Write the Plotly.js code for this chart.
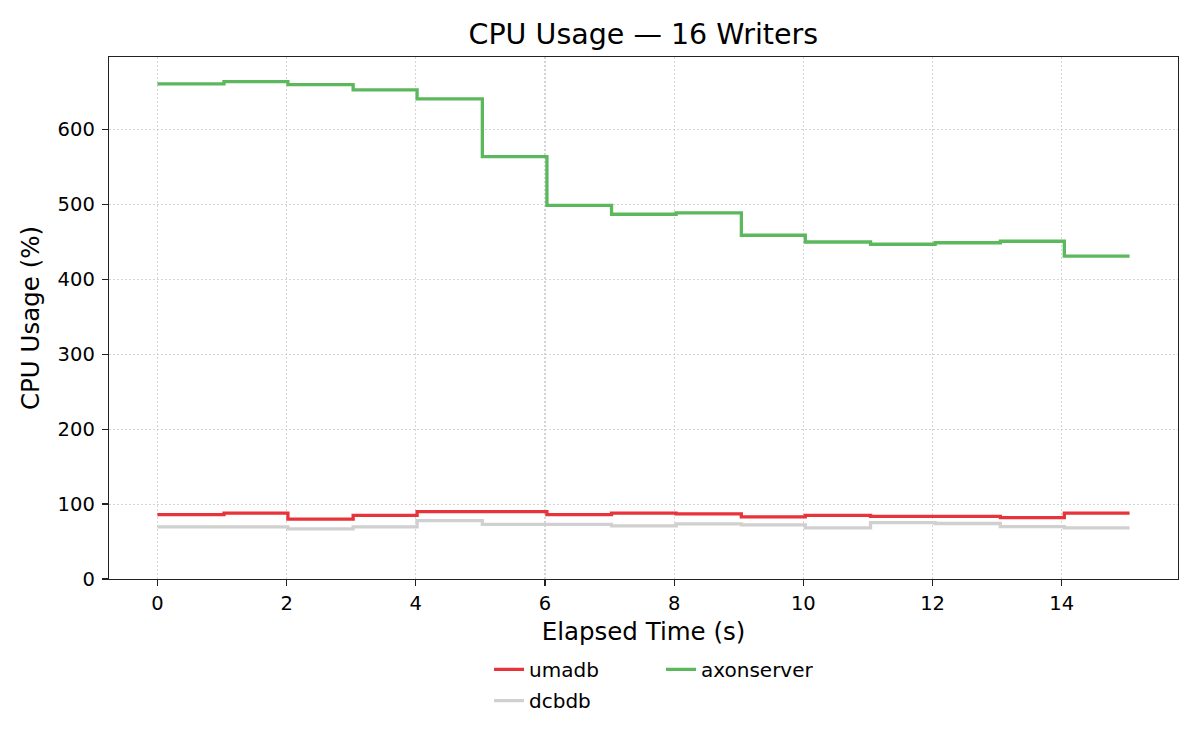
<!DOCTYPE html>
<html>
<head>
<meta charset="utf-8">
<script src="https://cdn.plot.ly/plotly-3.0.1.min.js"></script>
<style>
  html, body { margin: 0; padding: 0; background: #ffffff; }
  #chart { width: 1200px; height: 750px; }
</style>
</head>
<body>
<div id="chart"></div>
<script>
// Elapsed time (s) of each sample
const times = [0, 1.03, 2.02, 3.03, 4.02, 5.03, 6.03, 7.03, 8.03, 9.04, 10.03, 11.04, 12.04, 13.05, 14.04, 15.05];
// CPU usage (%) per system
const umadb      = [86, 88, 80, 85, 90, 90, 86, 88, 87, 83, 85, 83.5, 83.5, 82, 88, 88];
const dcbdb      = [69.5, 69.5, 67, 69.5, 78, 73, 73, 71, 73.7, 72.3, 68.3, 75.4, 74.1, 70, 68.3, 68.3];
const axonserver = [661, 664, 660, 653, 641, 564, 499, 487, 489, 459, 450, 447, 449, 451, 431, 431];

const seriesNames  = ['umadb', 'dcbdb', 'axonserver'];
const seriesValues = [umadb, dcbdb, axonserver];
const seriesColors = ['#e8333a', '#d0d0d0', '#5cb85c'];
const seriesLegend = ['legend', 'legend2', 'legend'];

const xTickVals = [0, 2, 4, 6, 8, 10, 12, 14];
const yTickVals = [0, 100, 200, 300, 400, 500, 600];

const FONT = 'DejaVu Sans, Liberation Sans, sans-serif';

const traces = seriesNames.map((name, i) => ({
  type: 'scatter',
  mode: 'lines',
  name: name,
  x: times,
  y: seriesValues[i],
  line: { color: seriesColors[i], width: 3.3, shape: 'hv' },
  legend: seriesLegend[i],
  hoverinfo: 'x+y+name'
}));

const axisCommon = {
  showline: true,
  linecolor: '#222222',
  linewidth: 1.3,
  mirror: true,
  ticks: 'outside',
  ticklen: 6,
  tickwidth: 1.3,
  tickcolor: '#222222',
  showgrid: true,
  gridcolor: '#d4d4d4',
  gridwidth: 1.1,
  griddash: '1.5px,2.5px',
  zeroline: false,
  tickfont: { family: FONT, size: 19.5, color: '#000000' }
};

const layout = {
  width: 1200,
  height: 750,
  paper_bgcolor: '#ffffff',
  plot_bgcolor: '#ffffff',
  margin: { l: 109, r: 22, t: 57, b: 171, pad: 0 },
  font: { family: FONT, color: '#000000' },
  title: {
    text: 'CPU Usage — 16 Writers',
    font: { family: FONT, size: 28.5, color: '#000000' },
    x: 0.5361, xref: 'container', xanchor: 'center',
    y: 0.954, yref: 'container', yanchor: 'middle'
  },
  xaxis: Object.assign({}, axisCommon, {
    range: [-0.75, 15.8],
    tickvals: xTickVals,
    ticktext: xTickVals.map(String),
    title: { text: 'Elapsed Time (s)', font: { family: FONT, size: 24.5, color: '#000000' }, standoff: 9 }
  }),
  yaxis: Object.assign({}, axisCommon, {
    range: [0, 697],
    tickvals: yTickVals,
    ticktext: yTickVals.map(String),
    ticklabelstandoff: 3,
    title: { text: 'CPU Usage (%)', font: { family: FONT, size: 24.5, color: '#000000' }, standoff: 11 }
  }),
  showlegend: true,
  legend: {
    orientation: 'h',
    x: 0.3555, xref: 'paper', xanchor: 'left',
    y: -0.173, yref: 'paper', yanchor: 'middle',
    entrywidth: 127, entrywidthmode: 'pixels',
    font: { family: FONT, size: 20, color: '#000000' },
    bgcolor: 'rgba(0,0,0,0)',
    traceorder: 'normal'
  },
  legend2: {
    orientation: 'h',
    x: 0.3555, xref: 'paper', xanchor: 'left',
    y: -0.233, yref: 'paper', yanchor: 'middle',
    entrywidth: 127, entrywidthmode: 'pixels',
    font: { family: FONT, size: 20, color: '#000000' },
    bgcolor: 'rgba(0,0,0,0)'
  }
};

Plotly.newPlot('chart', traces, layout, { displayModeBar: false, staticPlot: true });
</script>
</body>
</html>
